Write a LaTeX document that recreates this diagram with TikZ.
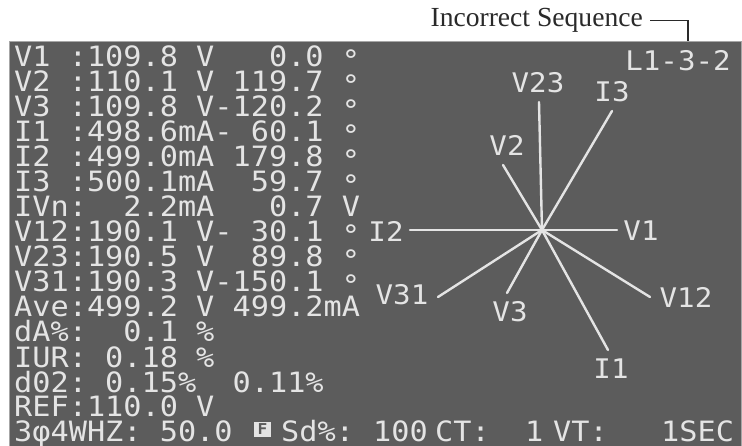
\documentclass[tikz,border=0pt]{standalone}
\usepackage{fontspec}
\setmainfont{Liberation Serif}
\newfontfamily\lcdfont[FakeStretch=1.08]{DejaVu Sans Mono}
\definecolor{screen}{HTML}{5C5C5C}
\definecolor{lcdfg}{HTML}{E4E4E4}
\definecolor{callout}{HTML}{2A2A2A}
\newcommand{\dg}{\raisebox{-4pt}{°}}
\begin{document}
\begin{tikzpicture}[x=1pt,y=-1pt,
  row/.style={anchor=base west, inner sep=0pt, text=lcdfg, font=\lcdfont\fontsize{28}{28}\selectfont},
  lbl/.style={inner sep=0pt, text=lcdfg, font=\lcdfont\fontsize{27}{27}\selectfont},
  phasor/.style={draw=lcdfg, line width=2.4pt, line cap=round},
  ]
\useasboundingbox (0,0) rectangle (742,446);
\fill[white] (0,0) rectangle (742,446);
\filldraw[fill=screen, draw=gray!70, line width=0.8pt] (9,41) rectangle (741,447);

% callout
\node[anchor=base east, inner sep=0pt, text=callout, font=\fontsize{27.6}{28}\selectfont] (seq) at (643,27) {Incorrect Sequence};
\coordinate (cs) at (650,20.7);
\coordinate (ce) at (688,41);
\draw[callout, line width=1.6pt] (cs) -| (ce);

% measurement rows
\node[row] (r1)  at (14,67)  {V1~:109.8~V~~~0.0~\dg};
\node[row] (r2)  at (14,92)  {V2~:110.1~V~119.7~\dg};
\node[row] (r3)  at (14,117) {V3~:109.8~V-120.2~\dg};
\node[row] (r4)  at (14,142) {I1~:498.6mA-~60.1~\dg};
\node[row] (r5)  at (14,167) {I2~:499.0mA~179.8~\dg};
\node[row] (r6)  at (14,192) {I3~:500.1mA~~59.7~\dg};
\node[row] (r7)  at (14,217) {IVn:~~2.2mA~~~0.7~V};
\node[row] (r8)  at (14,242) {V12:190.1~V-~30.1~\dg};
\node[row] (r9)  at (14,267) {V23:190.5~V~~89.8~\dg};
\node[row] (r10) at (14,292) {V31:190.3~V-150.1~\dg};
\node[row] (r11) at (14,317) {Ave:499.2~V~499.2mA};
\node[row] (r12) at (14,342) {dA\%:~~0.1~\%};
\node[row] (r13) at (14,367) {IUR:~0.18~\%};
\node[row] (r14) at (14,392) {d02:~0.15\%~~0.11\%};
\node[row] (r15) at (14,417) {REF:110.0~V};
\node[row] (r16) at (14,441) {3φ4WHZ:~50.0};
\node[fill=lcdfg, text=screen, inner sep=0pt, minimum width=17pt, minimum height=15pt,
      font=\lcdfont\bfseries\fontsize{15}{15}\selectfont] (fbox) at (262.5,429.5) {F};
\node[row] (sd)   at (281,441) {Sd\%:};
\node[row] (n100) at (373,441) {100};
\node[row] (ct)   at (435,441) {CT:};
\node[row] (one)  at (525,441) {1};
\node[row] (vt)   at (553,441) {VT:};
\node[row] (sec)  at (661,441) {1SEC};

% sequence tag
\node[lbl] (seqtag) at (678,61) {L1-3-2};

% phasor diagram
\coordinate (O) at (542,230);
\coordinate (eV1)  at (617,230);
\coordinate (eI2)  at (410,230);
\coordinate (eV23) at (539,102);
\coordinate (eI3)  at (612,111);
\coordinate (eV2)  at (503,165);
\coordinate (eV31) at (438,297);
\coordinate (eV3)  at (507,293);
\coordinate (eI1)  at (608,350);
\coordinate (eV12) at (650,297);
\foreach \e in {eV1,eI2,eV23,eI3,eV2,eV31,eV3,eI1,eV12}
  \draw[phasor] (O) -- (\e);

\node[lbl] (lV1)  at (641,231) {V1};
\node[lbl] (lI2)  at (386,231) {I2};
\node[lbl] (lV23) at (538,83)  {V23};
\node[lbl] (lI3)  at (612,92)  {I3};
\node[lbl] (lV2)  at (507,145) {V2};
\node[lbl] (lV31) at (402,295) {V31};
\node[lbl] (lV3)  at (510,312) {V3};
\node[lbl] (lV12) at (686,297) {V12};
\node[lbl] (lI1)  at (611,369) {I1};
\end{tikzpicture}
\end{document}
